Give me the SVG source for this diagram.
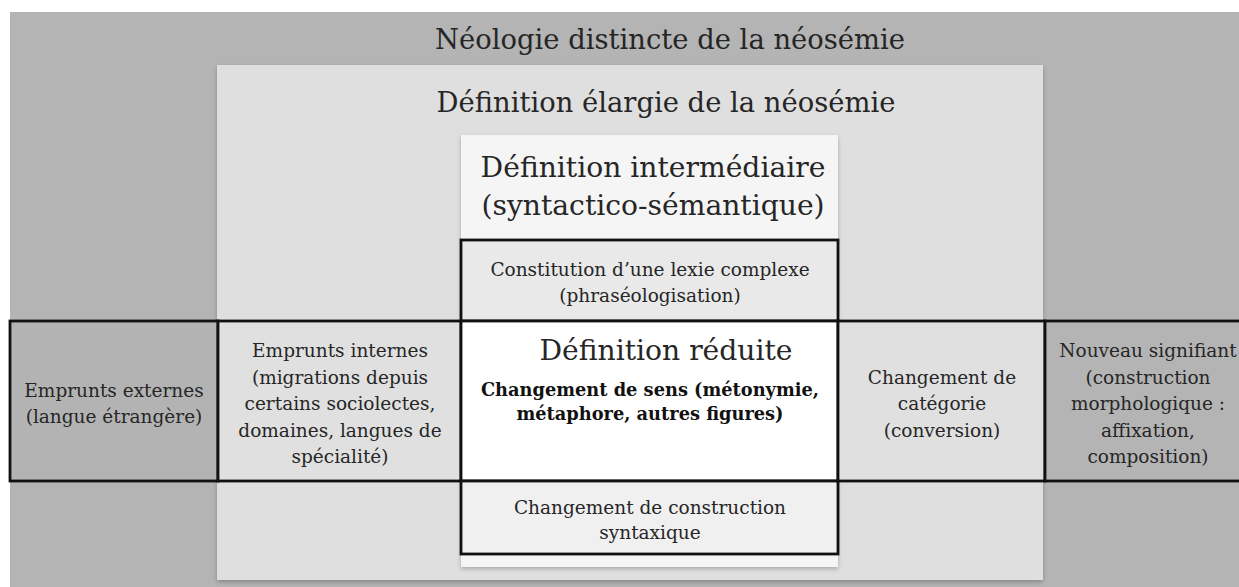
<svg xmlns="http://www.w3.org/2000/svg" width="1239" height="587" viewBox="0 0 1239 587">
<defs>
<filter id="sh" x="-5%" y="-5%" width="110%" height="110%">
<feDropShadow dx="0" dy="2" stdDeviation="2" flood-color="#000" flood-opacity="0.25"/>
</filter>
<style>
text{font-family:"DejaVu Serif","Liberation Serif",serif;fill:#262626;text-anchor:middle}
.big{font-size:27.4px}
.mid{font-size:28.2px}
.t{font-size:18.5px}
.b{font-size:17.8px;font-weight:bold;fill:#111}
.cell{stroke:#111;stroke-width:2.8}
</style>
</defs>
<rect width="1239" height="587" fill="#ffffff"/>
<g id="neologie">
<rect x="10" y="12" width="1240" height="590" fill="#b4b4b4"/>
<text class="big" x="670" y="49">Néologie distincte de la néosémie</text>
</g>
<g id="elargie">
<rect x="217" y="65" width="826" height="515" fill="#dfdfdf" filter="url(#sh)"/>
<text class="big" x="666" y="112">Définition élargie de la néosémie</text>
</g>
<g id="intermediaire">
<rect x="461" y="135" width="377" height="432" fill="#f5f5f5" filter="url(#sh)"/>
<text class="mid" x="653" y="177">Définition intermédiaire</text>
<text class="mid" x="653" y="215">(syntactico-sémantique)</text>
</g>
<g id="emprunts-externes">
<rect class="cell" x="10" y="321" width="208" height="160" fill="#b3b3b3"/>
<text class="t" x="114" y="397">Emprunts externes</text>
<text class="t" x="114" y="423">(langue étrangère)</text>
</g>
<g id="emprunts-internes">
<rect class="cell" x="218" y="321" width="243" height="160" fill="#e0e0e0"/>
<text class="t" x="340" y="357">Emprunts internes</text>
<text class="t" x="340" y="383.5">(migrations depuis</text>
<text class="t" x="340" y="410">certains sociolectes,</text>
<text class="t" x="340" y="436.5">domaines, langues de</text>
<text class="t" x="340" y="463">spécialité)</text>
</g>
<g id="constitution">
<rect class="cell" x="461" y="240" width="377" height="81" fill="#e9e9e9"/>
<text class="t" x="650" y="276">Constitution d’une lexie complexe</text>
<text class="t" x="650" y="302">(phraséologisation)</text>
</g>
<g id="reduite">
<rect class="cell" x="461" y="321" width="377" height="160" fill="#ffffff"/>
<text class="mid" x="666" y="360">Définition réduite</text>
<text class="b" x="650" y="396">Changement de sens (métonymie,</text>
<text class="b" x="650" y="420">métaphore, autres figures)</text>
</g>
<g id="construction">
<rect class="cell" x="461" y="481" width="377" height="73" fill="#f0f0f0"/>
<text class="t" x="650" y="514">Changement de construction</text>
<text class="t" x="650" y="539">syntaxique</text>
</g>
<g id="categorie">
<rect class="cell" x="838" y="321" width="207" height="160" fill="#e0e0e0"/>
<text class="t" x="942" y="383.5">Changement de</text>
<text class="t" x="942" y="410">catégorie</text>
<text class="t" x="942" y="436.5">(conversion)</text>
</g>
<g id="nouveau-signifiant">
<rect class="cell" x="1045" y="321" width="210" height="160" fill="#b4b4b4"/>
<text class="t" x="1148" y="357">Nouveau signifiant</text>
<text class="t" x="1148" y="383.5">(construction</text>
<text class="t" x="1148" y="410">morphologique :</text>
<text class="t" x="1148" y="436.5">affixation,</text>
<text class="t" x="1148" y="463">composition)</text>
</g>
<g id="connectors"/>
</svg>
